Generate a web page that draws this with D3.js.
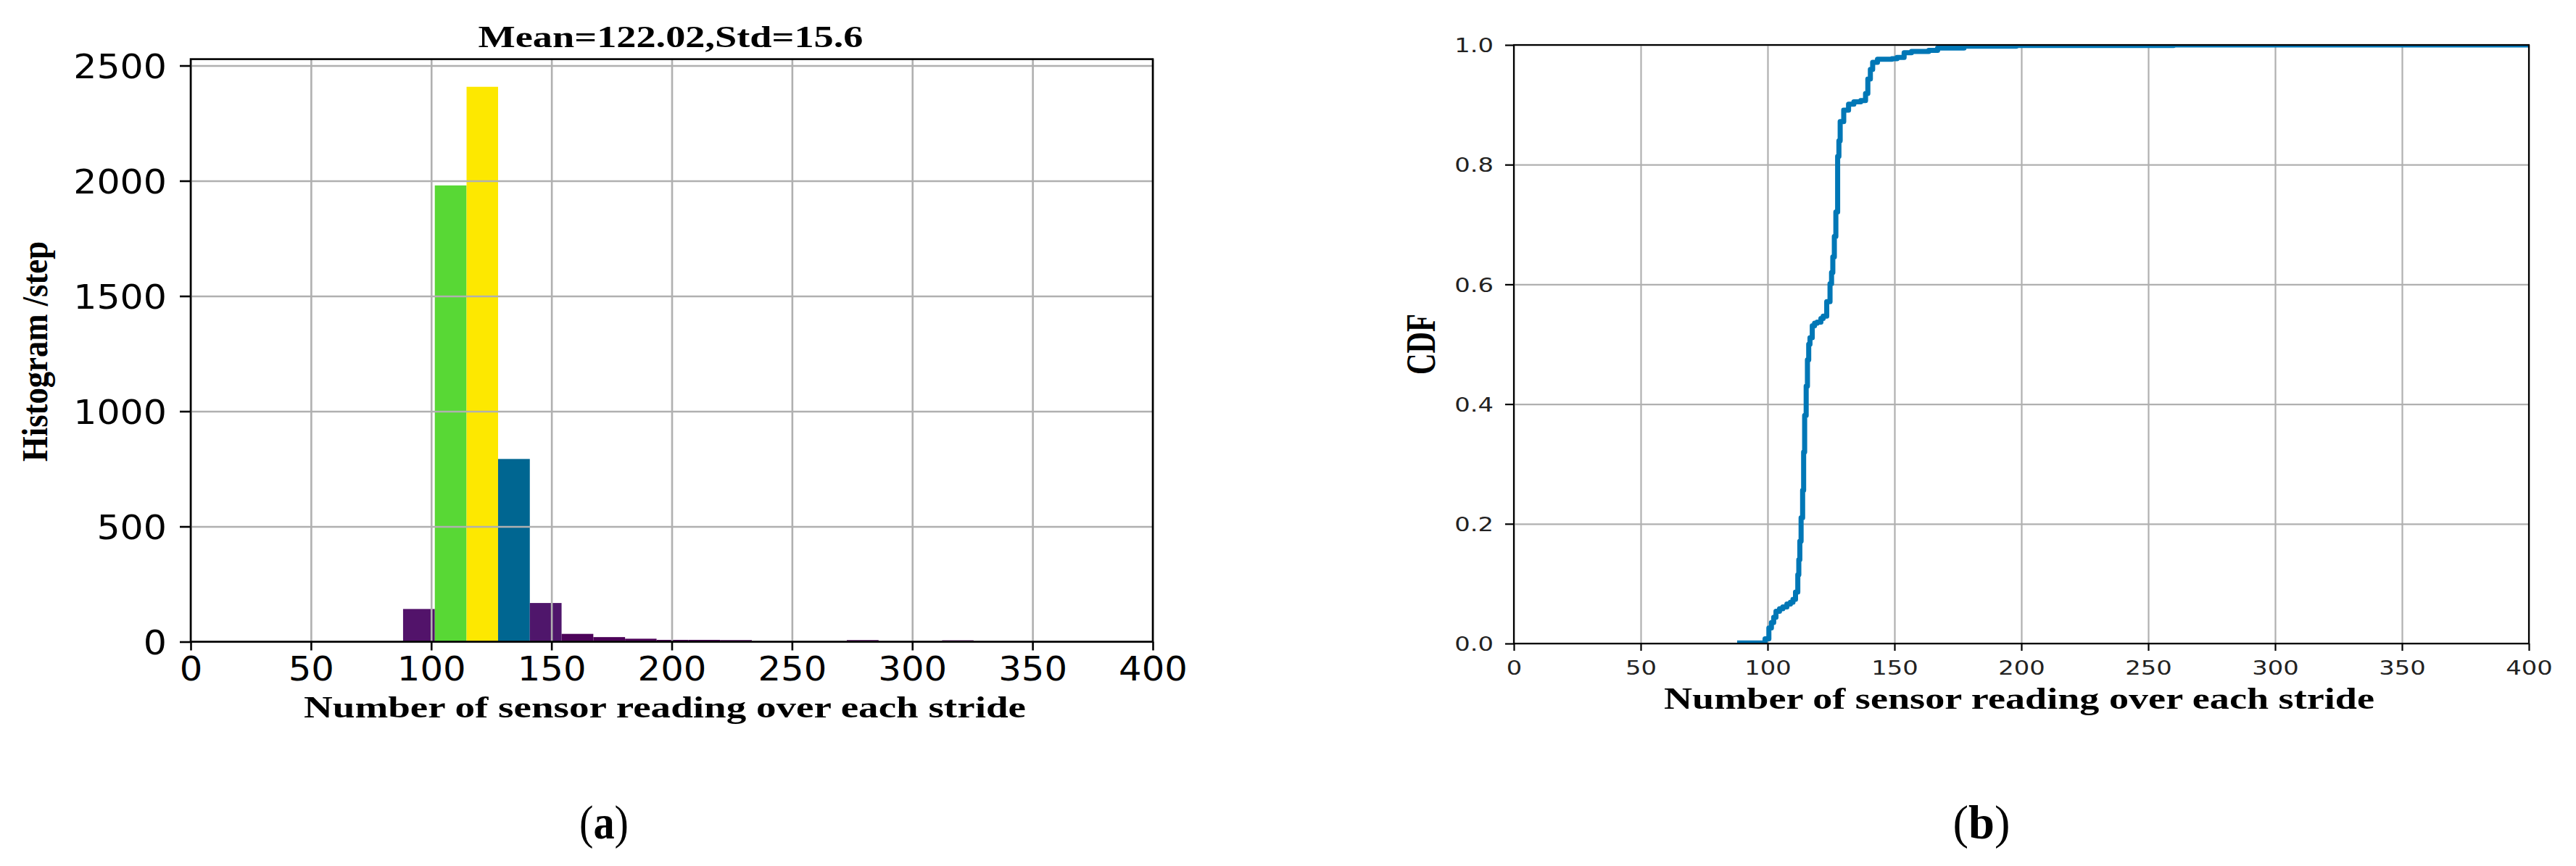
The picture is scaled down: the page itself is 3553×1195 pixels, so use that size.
<!DOCTYPE html>
<html>
<head>
<meta charset="utf-8">
<script src="https://cdn.jsdelivr.net/npm/d3@7"></script>
<style>
  body { margin: 0; background: #fff; }
  svg { display: block; }
  .tick-sans { font-family: "DejaVu Sans", sans-serif; }
  .serif { font-family: "Liberation Serif", "Times New Roman", serif; }
</style>
</head>
<body>
<svg id="chart" width="3553" height="1195"></svg>
<script>
// histogram (a): bin edges and counts
const binEdges = [88.3, 101.5, 114.7, 127.8, 141.0, 154.2, 167.4, 180.6, 193.7, 206.9,
  220.1, 233.3, 246.5, 259.6, 272.8, 286.0, 299.2, 312.4, 325.5];
const binCounts = [142, 1980, 2408, 793, 168, 34, 20, 13, 8, 8, 7, 0, 0, 0, 7, 0, 0, 6];
const histTitle = "Mean=122.02,Std=15.6";

// cdf (b): step positions and cumulative value after each step
const cdfX = [88, 99, 100.5, 101.5, 102.4, 103.3, 104.7, 106, 107.6, 109, 110, 111, 111.9,
  112.3, 112.7, 113.2, 113.8, 114.2, 114.6, 115.2, 115.7, 116.2, 116.7, 117.6, 118.5, 119.5,
  121, 121.9, 123.3, 124.6, 125.2, 125.7, 126.3, 126.9, 127.6, 128.1, 128.6, 130, 131.9, 134,
  136.7, 138.6, 139.5, 140.5, 141.4, 143.3, 149, 151, 153.8, 156.7, 163.5, 167, 177.4, 198,
  260, 400];
const cdfY = [0.001, 0.008, 0.026, 0.035, 0.044, 0.054, 0.058, 0.061, 0.066, 0.069, 0.074,
  0.086, 0.115, 0.14, 0.171, 0.21, 0.256, 0.32, 0.381, 0.43, 0.474, 0.5, 0.511, 0.531, 0.535,
  0.537, 0.543, 0.547, 0.571, 0.601, 0.62, 0.646, 0.68, 0.721, 0.814, 0.84, 0.872, 0.891,
  0.901, 0.905, 0.907, 0.919, 0.943, 0.959, 0.971, 0.976, 0.977, 0.979, 0.987, 0.989, 0.991,
  0.995, 0.998, 0.999, 1.0, 1.0];

const xTicks = [0, 50, 100, 150, 200, 250, 300, 350, 400];
const histYTicks = [0, 500, 1000, 1500, 2000, 2500];
const cdfYTicks = [0, 0.2, 0.4, 0.6, 0.8, 1.0];
const xLabel = "Number of sensor reading over each stride";

const svg = d3.select("#chart");
const gridColor = "#b0b0b0";

// stretch a text to a width (the figure's fonts are squashed / widened)
function fitWidth(sel, factor) {
  sel.each(function () {
    const len = this.getComputedTextLength();
    d3.select(this).attr("textLength", len * factor).attr("lengthAdjust", "spacingAndGlyphs");
  });
}

// ---------- (a) histogram ----------
const hx = d3.scaleLinear().domain([0, 400]).range([263, 1590]);
const hy = d3.scaleLinear().domain([0, 2528]).range([885.5, 81.6]);
const maxCount = d3.max(binCounts);
const barColor = d3.scaleLinear()
  .domain([0, 0.06, 0.33, 0.82, 1].map(t => t * maxCount))
  .range(["#4b0055", "#52136a", "#006691", "#56d836", "#fde800"]);

const gA = svg.append("g");
const bins = binCounts.map((c, i) => ({ x0: binEdges[i], x1: binEdges[i + 1], n: c }));

gA.append("g").selectAll("rect")
  .data(bins.filter(d => d.n > 0))
  .join("rect")
  .attr("x", d => hx(d.x0))
  .attr("width", d => hx(d.x1) - hx(d.x0))
  .attr("y", d => hy(d.n))
  .attr("height", d => hy(0) - hy(d.n))
  .attr("fill", d => barColor(d.n));

// grid above the bars, like matplotlib patches
gA.append("g")
  .attr("transform", `translate(0,${hy(0)})`)
  .call(d3.axisBottom(hx).tickValues(xTicks).tickSize(-(hy(0) - hy.range()[1])).tickFormat(""))
  .call(g => g.select(".domain").remove())
  .call(g => g.selectAll("line").attr("stroke", gridColor).attr("stroke-width", 2.6));
gA.append("g")
  .attr("transform", `translate(${hx(0)},0)`)
  .call(d3.axisLeft(hy).tickValues(histYTicks).tickSize(-(hx(400) - hx(0))).tickFormat(""))
  .call(g => g.select(".domain").remove())
  .call(g => g.selectAll("line").attr("stroke", gridColor).attr("stroke-width", 2.6));

gA.append("rect")
  .attr("x", hx(0)).attr("y", hy.range()[1])
  .attr("width", hx(400) - hx(0)).attr("height", hy(0) - hy.range()[1])
  .attr("fill", "none").attr("stroke", "#000").attr("stroke-width", 2.6);

const axA_x = gA.append("g")
  .attr("transform", `translate(0,${hy(0)})`)
  .call(d3.axisBottom(hx).tickValues(xTicks).tickSize(12).tickPadding(10)
    .tickFormat(d3.format("d")));
axA_x.select(".domain").remove();
axA_x.selectAll("line").attr("stroke", "#000").attr("stroke-width", 2.6);
axA_x.selectAll("text").attr("class", "tick-sans").attr("font-size", 46)
  .attr("fill", "#000").attr("dy", null).attr("y", 939 - hy(0))
  .call(fitWidth, 1.08);

const axA_y = gA.append("g")
  .attr("transform", `translate(${hx(0)},0)`)
  .call(d3.axisLeft(hy).tickValues(histYTicks).tickSize(15).tickPadding(18)
    .tickFormat(d3.format("d")));
axA_y.select(".domain").remove();
axA_y.selectAll("line").attr("stroke", "#000").attr("stroke-width", 2.6);
axA_y.selectAll("text").attr("class", "tick-sans").attr("font-size", 46)
  .attr("fill", "#000").attr("dy", "0.36em")
  .call(fitWidth, 1.1);

gA.append("text").attr("class", "serif")
  .attr("x", 925).attr("y", 65).attr("text-anchor", "middle")
  .attr("font-size", 43).attr("font-weight", "bold")
  .attr("textLength", 531).attr("lengthAdjust", "spacingAndGlyphs")
  .text(histTitle);
gA.append("text").attr("class", "serif")
  .attr("x", 917).attr("y", 990).attr("text-anchor", "middle")
  .attr("font-size", 43).attr("font-weight", "bold")
  .attr("textLength", 996).attr("lengthAdjust", "spacingAndGlyphs")
  .text(xLabel);
gA.append("text").attr("class", "serif")
  .attr("transform", "translate(65,485) rotate(-90)")
  .attr("text-anchor", "middle")
  .attr("font-size", 50).attr("font-weight", "bold")
  .attr("textLength", 304).attr("lengthAdjust", "spacingAndGlyphs")
  .text("Histogram /step");

// ---------- (b) CDF ----------
const cx = d3.scaleLinear().domain([0, 400]).range([2088, 3488]);
const cy = d3.scaleLinear().domain([0, 1]).range([888, 62]);
const gB = svg.append("g");

gB.append("g")
  .attr("transform", `translate(0,${cy(0)})`)
  .call(d3.axisBottom(cx).tickValues(xTicks).tickSize(-(cy(0) - cy(1))).tickFormat(""))
  .call(g => g.select(".domain").remove())
  .call(g => g.selectAll("line").attr("stroke", gridColor).attr("stroke-width", 2.2));
gB.append("g")
  .attr("transform", `translate(${cx(0)},0)`)
  .call(d3.axisLeft(cy).tickValues(cdfYTicks).tickSize(-(cx(400) - cx(0))).tickFormat(""))
  .call(g => g.select(".domain").remove())
  .call(g => g.selectAll("line").attr("stroke", gridColor).attr("stroke-width", 2.2));

svg.append("defs").append("clipPath").attr("id", "clipB")
  .append("rect").attr("x", cx(0)).attr("y", cy(1))
  .attr("width", cx(400) - cx(0)).attr("height", cy(0) - cy(1));

const cdfLine = d3.line()
  .x((d, i) => cx(cdfX[i]))
  .y(d => cy(d))
  .curve(d3.curveStepAfter);
gB.append("path")
  .attr("clip-path", "url(#clipB)")
  .attr("d", cdfLine(cdfY))
  .attr("fill", "none").attr("stroke", "#0077b6").attr("stroke-width", 7)
  .attr("stroke-linejoin", "round");

gB.append("rect")
  .attr("x", cx(0)).attr("y", cy(1))
  .attr("width", cx(400) - cx(0)).attr("height", cy(0) - cy(1))
  .attr("fill", "none").attr("stroke", "#000").attr("stroke-width", 2.2);

const axB_x = gB.append("g")
  .attr("transform", `translate(0,${cy(0)})`)
  .call(d3.axisBottom(cx).tickValues(xTicks).tickSize(10).tickPadding(8));
axB_x.select(".domain").remove();
axB_x.selectAll("line").attr("stroke", "#000").attr("stroke-width", 2.2);
axB_x.selectAll("text").attr("class", "tick-sans").attr("font-size", 27)
  .attr("fill", "#222").attr("dy", null).attr("y", 931 - cy(0))
  .call(fitWidth, 1.25);

const axB_y = gB.append("g")
  .attr("transform", `translate(${cx(0)},0)`)
  .call(d3.axisLeft(cy).tickValues(cdfYTicks).tickSize(12).tickPadding(16)
    .tickFormat(d3.format(".1f")));
axB_y.select(".domain").remove();
axB_y.selectAll("line").attr("stroke", "#000").attr("stroke-width", 2.2);
axB_y.selectAll("text").attr("class", "tick-sans").attr("font-size", 27)
  .attr("fill", "#222").attr("dy", "0.36em")
  .call(fitWidth, 1.25);

gB.append("text").attr("class", "serif")
  .attr("x", 2785).attr("y", 978).attr("text-anchor", "middle")
  .attr("font-size", 43).attr("font-weight", "bold")
  .attr("textLength", 980).attr("lengthAdjust", "spacingAndGlyphs")
  .text(xLabel);
gB.append("text").attr("class", "serif")
  .attr("transform", "translate(1979,475) rotate(-90)")
  .attr("text-anchor", "middle")
  .attr("font-size", 56).attr("font-weight", "bold")
  .attr("textLength", 84).attr("lengthAdjust", "spacingAndGlyphs")
  .text("CDF");

// ---------- panel letters ----------
[["a", 833, 68], ["b", 2733, 79]].forEach(([letter, x, w]) => {
  const t = svg.append("text").attr("class", "serif")
    .attr("x", x).attr("y", 1157).attr("text-anchor", "middle")
    .attr("font-size", 66)
    .attr("textLength", w).attr("lengthAdjust", "spacingAndGlyphs");
  t.append("tspan").text("(");
  t.append("tspan").attr("font-weight", "bold").text(letter);
  t.append("tspan").text(")");
});
</script>
</body>
</html>
